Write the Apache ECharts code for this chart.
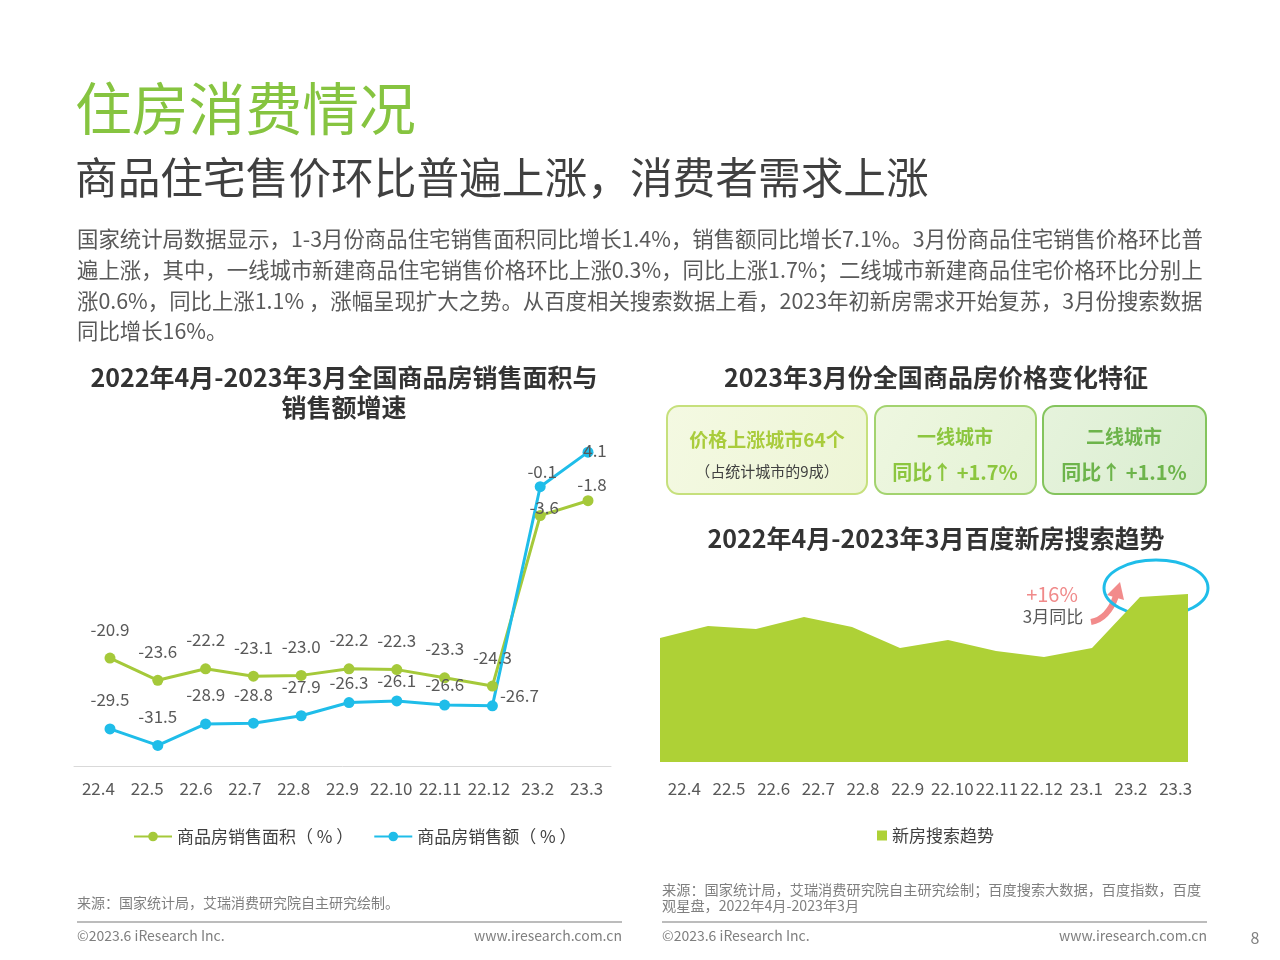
<!DOCTYPE html>
<html>
<head>
<meta charset="utf-8">
<script src="https://cdn.jsdelivr.net/npm/echarts@6/dist/echarts.min.js"></script>
<style>
  html, body { margin: 0; padding: 0; background: #fff; }
  #main { width: 1280px; height: 960px; }
</style>
</head>
<body>
<div id="main"></div>
<script>
// 左图：销售面积 / 销售额增速
var salesMonths = ['22.4', '22.5', '22.6', '22.7', '22.8', '22.9', '22.10', '22.11', '22.12', '23.2', '23.3'];
var areaGrowth = [-20.9, -23.6, -22.2, -23.1, -23.0, -22.2, -22.3, -23.3, -24.3, -3.6, -1.8];
var amountGrowth = [-29.5, -31.5, -28.9, -28.8, -27.9, -26.3, -26.1, -26.6, -26.7, -0.1, 4.1];

// 右图：百度新房搜索趋势（估读的相对指数）
var searchMonths = ['22.4', '22.5', '22.6', '22.7', '22.8', '22.9', '22.10', '22.11', '22.12', '23.1', '23.2', '23.3'];
var searchIndex = [124, 136, 133, 145, 135, 114, 122, 111, 105, 114, 165, 168];

var FONT = '"Noto Sans CJK SC", "Noto Sans", sans-serif';
var GREEN = '#a5c93a';
var BLUE = '#1fbde9';
var AREA = '#aed136';

var myChart = echarts.init(document.getElementById('main'));

function txt(text, x, y, size, color, opts) {
    opts = opts || {};
    return {
        type: 'text',
        x: x, y: y,
        style: {
            text: text,
            fill: color,
            font: (opts.bold ? 'bold ' : '') + size + 'px ' + FONT,
            textAlign: opts.align || 'left',
            align: opts.align || 'left',
            textVerticalAlign: 'middle',
            verticalAlign: 'middle'
        }
    };
}

function box(x, y, w, h, c1, c2, border) {
    return {
        type: 'rect',
        shape: { x: x, y: y, width: w, height: h, r: 12 },
        style: {
            fill: new echarts.graphic.LinearGradient(0, 0, 1, 1, [
                { offset: 0, color: c1 },
                { offset: 1, color: c2 }
            ]),
            stroke: border,
            lineWidth: 2
        }
    };
}

// 逐点调整标签位置，避免重叠
var areaData = areaGrowth.map(function (v, i) {
    var d = { value: v };
    if (i === 9) d.label = { position: 'inside', offset: [4, -8] };
    if (i === 10) d.label = { distance: 2, offset: [4, 0] };
    return d;
});
var amountData = amountGrowth.map(function (v, i) {
    var d = { value: v };
    if (i >= 5 && i <= 7) d.label = { distance: 6 };
    if (i === 8) d.label = { position: 'right', distance: 2, offset: [0, -10] };
    if (i === 9) d.label = { distance: 1, offset: [2, 0] };
    if (i === 10) d.label = { position: 'inside', offset: [7, -2] };
    return d;
});

var lineLabel = {
    show: true, position: 'top', distance: 15, fontSize: 17, color: '#595959', fontFamily: FONT,
    formatter: function (p) { return p.value.toFixed(1); }
};

var option = {
    animation: false,
    textStyle: { fontFamily: FONT },
    grid: [
        { left: 110, right: 692, top: 420, bottom: 194 },
        { left: 74, right: 669, top: 420, bottom: 194 },
        { left: 660, right: 92, top: 562, bottom: 198 },
        { left: 662, right: 82, top: 562, bottom: 198 }
    ],
    xAxis: [
        { gridIndex: 0, type: 'category', boundaryGap: false, data: salesMonths, show: false },
        {
            gridIndex: 1, type: 'category', boundaryGap: true, data: salesMonths,
            axisLine: { onZero: false, lineStyle: { color: '#d9d9d9', width: 1 } },
            axisTick: { show: false },
            axisLabel: { fontSize: 17, color: '#595959', margin: 14, interval: 0 }
        },
        { gridIndex: 2, type: 'category', boundaryGap: false, data: searchMonths, show: false },
        {
            gridIndex: 3, type: 'category', boundaryGap: true, data: searchMonths,
            axisLine: { show: false, onZero: false },
            axisTick: { show: false },
            axisLabel: { fontSize: 17, color: '#595959', margin: 18, interval: 0 }
        }
    ],
    yAxis: [
        { gridIndex: 0, type: 'value', min: -34, max: 8, show: false },
        { gridIndex: 1, type: 'value', min: -34, max: 8, show: false },
        { gridIndex: 2, type: 'value', min: 0, max: 200, show: false },
        { gridIndex: 3, type: 'value', min: 0, max: 200, show: false }
    ],
    legend: [
        {
            data: ['商品房销售面积（ % ）', '商品房销售额（ % ）'],
            left: 128, top: 823,
            itemWidth: 38, itemHeight: 12, itemGap: 20,
            textStyle: { fontSize: 17, color: '#404040', fontFamily: FONT }
        },
        {
            data: ['新房搜索趋势'],
            left: 872, top: 822,
            icon: 'rect', itemWidth: 10, itemHeight: 10, itemGap: 6,
            textStyle: { fontSize: 17, color: '#404040', fontFamily: FONT }
        }
    ],
    series: [
        {
            name: '商品房销售面积（ % ）',
            type: 'line',
            xAxisIndex: 0, yAxisIndex: 0,
            data: areaData,
            color: GREEN,
            symbol: 'circle', symbolSize: 11,
            lineStyle: { width: 3 },
            label: lineLabel
        },
        {
            name: '商品房销售额（ % ）',
            type: 'line',
            xAxisIndex: 0, yAxisIndex: 0,
            data: amountData,
            color: BLUE,
            symbol: 'circle', symbolSize: 11,
            lineStyle: { width: 3 },
            label: lineLabel
        },
        {
            name: '新房搜索趋势',
            type: 'line',
            xAxisIndex: 2, yAxisIndex: 2,
            data: searchIndex,
            color: AREA,
            symbol: 'none',
            lineStyle: { width: 0 },
            areaStyle: { color: AREA, opacity: 1 }
        }
    ],
    graphic: [
        // 标题与说明
        txt('住房消费情况', 75, 108, 56.8, '#86c440'),
        txt('商品住宅售价环比普遍上涨，消费者需求上涨', 75, 178, 42.7, '#404040'),
        txt('国家统计局数据显示，1-3月份商品住宅销售面积同比增长1.4%，销售额同比增长7.1%。3月份商品住宅销售价格环比普', 77, 239, 21.4, '#595959'),
        txt('遍上涨，其中，一线城市新建商品住宅销售价格环比上涨0.3%，同比上涨1.7%；二线城市新建商品住宅价格环比分别上', 77, 270, 21.4, '#595959'),
        txt('涨0.6%，同比上涨1.1% ，涨幅呈现扩大之势。从百度相关搜索数据上看，2023年初新房需求开始复苏，3月份搜索数据', 77, 301, 21.4, '#595959'),
        txt('同比增长16%。', 77, 331, 21.4, '#595959'),

        // 左图标题
        txt('2022年4月-2023年3月全国商品房销售面积与', 344, 377, 25, '#333333', { bold: true, align: 'center' }),
        txt('销售额增速', 344, 407, 25, '#333333', { bold: true, align: 'center' }),

        // 右侧标题与指标框
        txt('2023年3月份全国商品房价格变化特征', 936, 377, 25, '#333333', { bold: true, align: 'center' }),
        box(667, 406, 200, 88, '#f4f9e2', '#edf5d6', '#c6e07c'),
        box(875, 406, 161, 88, '#eef7e0', '#e4f2d6', '#a3d36f'),
        box(1043, 406, 163, 88, '#e6f3dc', '#d9edd0', '#84c45d'),
        txt('价格上涨城市64个', 767, 440, 19, '#a9cc3c', { bold: true, align: 'center' }),
        txt('（占统计城市的9成）', 767, 471, 15, '#404040', { align: 'center' }),
        txt('一线城市', 955, 437, 19, '#8cc63f', { bold: true, align: 'center' }),
        txt('同比↑ +1.7%', 955, 472, 20, '#8cc63f', { bold: true, align: 'center' }),
        txt('二线城市', 1124, 437, 19, '#6db44b', { bold: true, align: 'center' }),
        txt('同比↑ +1.1%', 1124, 472, 20, '#6db44b', { bold: true, align: 'center' }),

        txt('2022年4月-2023年3月百度新房搜索趋势', 936, 538, 25, '#333333', { bold: true, align: 'center' }),

        // 注释：+16% 与箭头、椭圆
        txt('+16%', 1052, 594, 20, '#f08a8a', { align: 'center' }),
        txt('3月同比', 1053, 617, 17, '#595959', { align: 'center' }),
        {
            type: 'bezierCurve',
            shape: { x1: 1091, y1: 622, cpx1: 1108, cpy1: 619, x2: 1116, y2: 596 },
            style: { stroke: '#f28b8b', lineWidth: 6, fill: 'none' }
        },
        {
            type: 'polygon',
            shape: { points: [[1120, 582], [1107, 595], [1124, 600]] },
            style: { fill: '#f28b8b' }
        },
        {
            type: 'ellipse',
            shape: { cx: 1156, cy: 588, rx: 52, ry: 28 },
            style: { fill: 'none', stroke: BLUE, lineWidth: 3 }
        },

        // 页脚
        txt('来源：国家统计局，艾瑞消费研究院自主研究绘制。', 77, 903, 14, '#7f7f7f'),
        { type: 'line', shape: { x1: 77, y1: 922, x2: 622, y2: 922 }, style: { stroke: '#a6a6a6', lineWidth: 1.5 } },
        txt('©2023.6 iResearch Inc.', 77, 936, 14, '#7f7f7f'),
        txt('www.iresearch.com.cn', 622, 936, 14, '#7f7f7f', { align: 'right' }),

        txt('来源：国家统计局，艾瑞消费研究院自主研究绘制；百度搜索大数据，百度指数，百度', 662, 890, 14.2, '#7f7f7f'),
        txt('观星盘，2022年4月-2023年3月', 662, 906, 14.2, '#7f7f7f'),
        { type: 'line', shape: { x1: 662, y1: 922, x2: 1207, y2: 922 }, style: { stroke: '#a6a6a6', lineWidth: 1.5 } },
        txt('©2023.6 iResearch Inc.', 662, 936, 14, '#7f7f7f'),
        txt('www.iresearch.com.cn', 1207, 936, 14, '#7f7f7f', { align: 'right' }),
        txt('8', 1255, 938, 16, '#7f7f7f', { align: 'center' })
    ]
};

myChart.setOption(option);
window.addEventListener('resize', function () { myChart.resize(); });
</script>
</body>
</html>
